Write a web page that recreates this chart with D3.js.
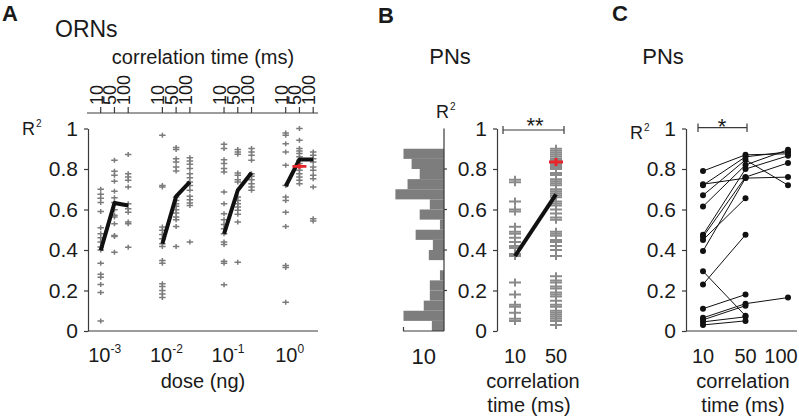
<!DOCTYPE html>
<html><head><meta charset="utf-8">
<script src="https://cdn.jsdelivr.net/npm/d3@7"></script>
<style>
body{margin:0;background:#fff}
svg{display:block}
text{font-family:'Liberation Sans',Arial,Helvetica,sans-serif;fill:#1a1a1a}
</style>
</head><body>
<svg id="chart" width="799" height="418"></svg>
<script>
// ---------------- DATA ----------------
// Panel A: ORNs, R^2 by dose (ng) and correlation time (ms)
const doses = [1e-3, 1e-2, 1e-1, 1];
const doseExponents = ["-3", "-2", "-1", "0"];
const corrTimesA = [10, 50, 100];
const ornDose3 = [
  [0.70,0.675,0.655,0.635,0.59,0.51,0.48,0.46,0.44,0.415,0.40,0.335,0.28,0.265,0.23,0.19,0.05],
  [0.843,0.789,0.769,0.739,0.69,0.658,0.634,0.599,0.571,0.563,0.53,0.472,0.467,0.389],
  [0.871,0.777,0.761,0.744,0.711,0.629,0.604,0.587,0.538,0.53,0.414]
];
const ornDose2 = [
  [0.967,0.719,0.711,0.513,0.497,0.477,0.456,0.431,0.417,0.348,0.335,0.233,0.22,0.2,0.183,0.166],
  [0.906,0.896,0.851,0.835,0.81,0.79,0.662,0.645,0.629,0.616,0.599,0.583,0.563,0.55,0.516,0.417],
  [0.856,0.84,0.823,0.802,0.777,0.757,0.736,0.719,0.695,0.665,0.648,0.632,0.62,0.439]
];
const ornDose1 = [
  [0.922,0.901,0.846,0.827,0.802,0.785,0.686,0.628,0.579,0.549,0.526,0.505,0.48,0.439,0.427,0.345,0.335,0.229],
  [0.896,0.884,0.873,0.78,0.769,0.747,0.736,0.662,0.645,0.629,0.612,0.596,0.576,0.538,0.34],
  [0.901,0.884,0.868,0.843,0.777,0.764,0.747,0.727,0.711,0.695]
];
const ornDose0 = [
  [0.978,0.967,0.925,0.884,0.818,0.719,0.662,0.645,0.587,0.516,0.323,0.313,0.142],
  [1.0,0.942,0.901,0.889,0.876,0.86,0.843,0.827,0.81,0.794,0.777,0.761,0.744,0.727],
  [0.884,0.868,0.851,0.835,0.81,0.794,0.769,0.752,0.711,0.554,0.543]
];
const ornMeans = [
  [0.398, 0.632, 0.62],
  [0.431, 0.665, 0.736],
  [0.48, 0.695, 0.781],
  [0.715, 0.847, 0.847]
];
const ornHighlight = {dose: 1, ct: 50, value: 0.813};

// Panel B: PNs
const corrTimesB = [10, 50];
const pnCt10 = [0.747,0.735,0.64,0.60,0.59,0.515,0.49,0.48,0.46,0.44,0.42,0.41,0.38,0.37,0.24,0.18,0.13,0.12,0.09,0.06,0.05];
const pnCt50 = [0.90,0.89,0.88,0.87,0.86,0.85,0.84,0.83,0.82,0.81,0.80,0.78,0.77,0.75,0.74,0.73,0.72,0.70,0.69,0.68,0.67,0.66,0.64,0.63,0.62,0.60,0.58,0.56,0.55,0.49,0.48,0.47,0.45,0.44,0.42,0.40,0.37,0.27,0.25,0.24,0.22,0.21,0.19,0.18,0.17,0.15,0.13,0.12,0.10,0.09,0.08,0.07,0.06,0.05,0.03];
const pnMeans = [0.37, 0.675];
const pnHighlight = {ct: 50, value: 0.835};
const histBinStarts = [0,0.05,0.10,0.15,0.20,0.25,0.30,0.35,0.40,0.45,0.50,0.55,0.60,0.65,0.70,0.75,0.80,0.85];
const histCounts = [3,10,5,3.5,3.5,1,0,3.75,2.75,7,1,6,3.5,12,9,6,8,10];

// Panel C: PNs paired across correlation times
const corrTimesC = [10, 50, 100];
const pairedCt10  = [0.79,0.725,0.72,0.67,0.615,0.475,0.465,0.45,0.395,0.295,0.23,0.11,0.065,0.055,0.045,0.03];
const pairedCt50  = [0.87,0.755,0.86,0.845,0.82,0.80,0.76,0.655,0.755,0.075,0.475,0.18,0.135,0.125,0.07,0.05];
const pairedCt100 = [0.875,0.76,0.885,0.72,0.895,0.865,0.83,null,null,null,null,null,0.165,null,null,null];

const yTicks = [0, 0.2, 0.4, 0.6, 0.8, 1];

// ---------------- DRAW ----------------
const svg = d3.select("#chart");
const AX = "#3a3a3a";
const GRAY = "#7b7b7b";
const RED = "#e8262a";
const fmt = d => (d === 0 ? "0" : d === 1 ? "1" : d3.format(".1f")(d));
const y = d3.scaleLinear().domain([0, 1]).range([331, 128.5]);

function leftAxis(x) {
  const g = svg.append("g").attr("transform", `translate(${x},0)`)
    .call(d3.axisLeft(y).tickValues(yTicks).tickFormat(fmt).tickSizeInner(4).tickSizeOuter(0).tickPadding(6));
  g.selectAll("path,line").attr("stroke", AX).attr("stroke-width", 1.2);
  g.selectAll("text").style("font-size", "21px").attr("fill", "#1a1a1a");
  return g;
}
function text(x, yy, s, size, opts = {}) {
  const t = svg.append("text").attr("x", x).attr("y", yy).text(s)
    .style("font-size", size + "px").attr("text-anchor", opts.anchor || "start");
  if (opts.bold) t.style("font-weight", "bold");
  return t;
}
function r2(x, yy) {
  const t = svg.append("text").attr("x", x).attr("y", yy).style("font-size", "18px");
  t.append("tspan").text("R");
  t.append("tspan").text("2").style("font-size", "10px").attr("dy", -8).attr("dx", 1);
}
const crossPath = (w, h) => `M${-w/2},0H${w/2}M0,${-h/2}V${h/2}`;

// ---- Panel A ----
const xDose = d3.scaleLog().domain([1e-3, 1]).range([100.7, 285.7]);
const xCtA = d3.scalePoint().domain(corrTimesA).range([0, 27.5]);
const ornAll = [ornDose3, ornDose2, ornDose1, ornDose0];

text(2, 21, "A", 22, {bold: true});
text(55, 37, "ORNs", 23);
text(203, 64, "correlation time (ms)", 20, {anchor: "middle"});
r2(22, 135);

leftAxis(88);
svg.append("line").attr("x1", 88).attr("x2", 318).attr("y1", 331).attr("y2", 331)
  .attr("stroke", AX).attr("stroke-width", 1.2);
// top axis
svg.append("line").attr("x1", 87).attr("x2", 318).attr("y1", 113).attr("y2", 113)
  .attr("stroke", AX).attr("stroke-width", 1.2);
const topTicks = [];
doses.forEach(d => corrTimesA.forEach(ct => topTicks.push({d, ct})));
svg.append("g").selectAll("line").data(topTicks).join("line")
  .attr("x1", t => xDose(t.d) + xCtA(t.ct)).attr("x2", t => xDose(t.d) + xCtA(t.ct))
  .attr("y1", 113).attr("y2", 107).attr("stroke", AX).attr("stroke-width", 1.2);
svg.append("g").selectAll("text").data(topTicks).join("text")
  .attr("transform", t => `translate(${xDose(t.d) + xCtA(t.ct) + 2},105) rotate(-90)`)
  .style("font-size", "18px").text(t => t.ct);

// dose labels
doses.forEach((d, i) => {
  const t = svg.append("text").attr("x", xDose(d) + 4).attr("y", 362)
    .attr("text-anchor", "middle").style("font-size", "20px");
  t.append("tspan").text("10");
  t.append("tspan").text(doseExponents[i]).style("font-size", "12px").attr("dy", -9);
});
text(203, 388, "dose (ng)", 20, {anchor: "middle"});

// crosses
const ptsA = [];
ornAll.forEach((cols, di) => cols.forEach((vals, ci) => vals.forEach(v =>
  ptsA.push({x: xDose(doses[di]) + xCtA(corrTimesA[ci]), v}))));
svg.append("g").selectAll("path").data(ptsA).join("path")
  .attr("d", crossPath(6.5, 5)).attr("transform", p => `translate(${p.x},${y(p.v)})`)
  .attr("stroke", GRAY).attr("stroke-width", 1.5).attr("fill", "none");
// mean lines
const lineA = d3.line();
ornMeans.forEach((m, di) => {
  svg.append("path").attr("d", lineA(m.map((v, ci) => [xDose(doses[di]) + xCtA(corrTimesA[ci]), y(v)])))
    .attr("stroke", "#111").attr("stroke-width", 4).attr("fill", "none")
    .attr("stroke-linejoin", "round");
});
svg.append("path").attr("d", crossPath(14, 5))
  .attr("transform", `translate(${xDose(ornHighlight.dose) + xCtA(ornHighlight.ct)},${y(ornHighlight.value)})`)
  .attr("stroke", RED).attr("stroke-width", 2.6);

// ---- Panel B ----
text(378, 23, "B", 22, {bold: true});
text(450, 64, "PNs", 22, {anchor: "middle"});
r2(436, 118);

// histogram
const xHist = d3.scaleLinear().domain([0, 10]).range([444, 403.5]);
svg.append("g").selectAll("rect").data(histBinStarts).join("rect")
  .attr("x", (b, i) => xHist(histCounts[i])).attr("width", (b, i) => xHist(0) - xHist(histCounts[i]))
  .attr("y", b => y(b + 0.05)).attr("height", b => y(b) - y(b + 0.05))
  .attr("fill", "#7d7d7d");
svg.append("line").attr("x1", 444).attr("x2", 444).attr("y1", y(1)).attr("y2", y(0))
  .attr("stroke", AX).attr("stroke-width", 1.2);
svg.append("g").selectAll("line").data([0.2, 0.4, 0.6, 0.8]).join("line")
  .attr("x1", 444).attr("x2", 447).attr("y1", d => y(d)).attr("y2", d => y(d))
  .attr("stroke", AX).attr("stroke-width", 1.2);
svg.append("path").attr("d", `M${xHist(10)},${y(0) - 4}V${y(0)}H${xHist(0)}`)
  .attr("stroke", AX).attr("stroke-width", 1.2).attr("fill", "none");
text((xHist(0) + xHist(10)) / 2, 364, "10", 22, {anchor: "middle"});

// right plot
const xB = d3.scalePoint().domain(corrTimesB).range([515, 556]);
leftAxis(497);
svg.append("g").selectAll("text").data(corrTimesB).join("text")
  .attr("x", d => xB(d)).attr("y", 363).attr("text-anchor", "middle")
  .style("font-size", "20px").text(d => d);
text(533, 388, "correlation", 20, {anchor: "middle"});
text(529, 412, "time (ms)", 20, {anchor: "middle"});

const ptsB = [];
[pnCt10, pnCt50].forEach((vals, ci) => vals.forEach(v => ptsB.push({x: xB(corrTimesB[ci]), v})));
svg.append("g").selectAll("path").data(ptsB).join("path")
  .attr("d", crossPath(12, 8)).attr("transform", p => `translate(${p.x},${y(p.v)})`)
  .attr("stroke", "#8a8a8a").attr("stroke-width", 2).attr("fill", "none");
svg.append("path").attr("d", d3.line()(pnMeans.map((v, i) => [xB(corrTimesB[i]), y(v)])))
  .attr("stroke", "#111").attr("stroke-width", 4).attr("fill", "none");
svg.append("path").attr("d", crossPath(14, 8))
  .attr("transform", `translate(${xB(pnHighlight.ct)},${y(pnHighlight.value)})`)
  .attr("stroke", RED).attr("stroke-width", 3);
// significance bar
svg.append("path").attr("d", "M503,126V134M503,130H564M564,126V134")
  .attr("stroke", AX).attr("stroke-width", 1.2).attr("fill", "none");
text(535, 133, "**", 22, {anchor: "middle"});

// ---- Panel C ----
text(612, 21, "C", 22, {bold: true});
text(663, 64, "PNs", 22, {anchor: "middle"});
r2(630, 139);
const xC = d3.scalePoint().domain(corrTimesC).range([703, 788]);
leftAxis(686);
svg.append("line").attr("x1", 686).attr("x2", 797).attr("y1", 331).attr("y2", 331)
  .attr("stroke", AX).attr("stroke-width", 1.2);
svg.append("g").selectAll("text").data(corrTimesC).join("text")
  .attr("x", d => Math.min(xC(d), 781)).attr("y", 363).attr("text-anchor", "middle")
  .style("font-size", "20px").text(d => d);
text(743, 388, "correlation", 20, {anchor: "middle"});
text(743, 412, "time (ms)", 20, {anchor: "middle"});

const cells = pairedCt10.map((v, i) => [pairedCt10[i], pairedCt50[i], pairedCt100[i]]);
const lineC = d3.line().defined(d => d[1] != null);
cells.forEach(c => {
  const pts = c.map((v, j) => [xC(corrTimesC[j]), v == null ? null : y(v)]);
  svg.append("path").attr("d", lineC(pts)).attr("stroke", "#111").attr("stroke-width", 1)
    .attr("fill", "none");
});
const ptsC = [];
cells.forEach(c => c.forEach((v, j) => { if (v != null) ptsC.push({x: xC(corrTimesC[j]), v}); }));
svg.append("g").selectAll("circle").data(ptsC).join("circle")
  .attr("cx", p => p.x).attr("cy", p => y(p.v)).attr("r", 3).attr("fill", "#111");
svg.append("path").attr("d", "M698,123.5V132M698,127.7H747M747,123.5V132")
  .attr("stroke", AX).attr("stroke-width", 1.2).attr("fill", "none");
text(722, 134, "*", 22, {anchor: "middle"});
</script>
</body></html>
